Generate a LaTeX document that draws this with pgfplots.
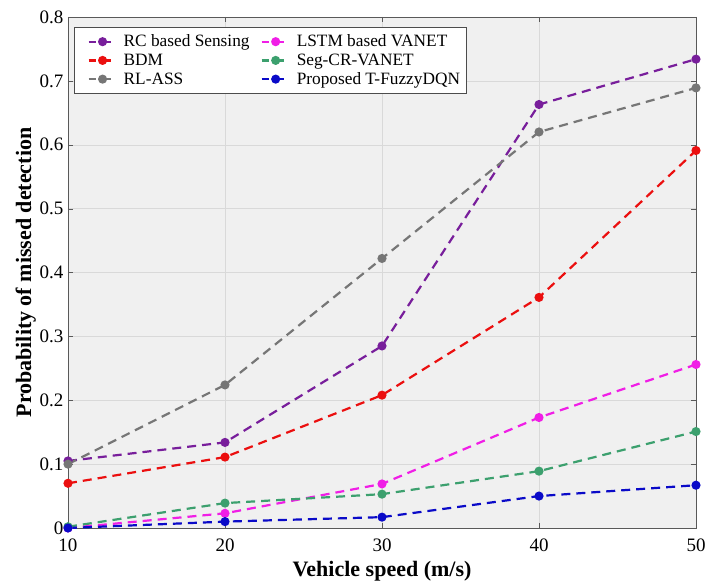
\documentclass[border=0pt]{standalone}
\usepackage{fontspec}
\setmainfont{Liberation Serif}
\usepackage{pgfplots}
\pgfplotsset{compat=1.18}
\definecolor{cRC}{RGB}{120,30,155}
\definecolor{cBDM}{RGB}{235,15,15}
\definecolor{cRL}{RGB}{118,118,118}
\definecolor{cLSTM}{RGB}{240,30,230}
\definecolor{cSeg}{RGB}{60,160,110}
\definecolor{cProp}{RGB}{10,10,200}
\definecolor{bg}{RGB}{240,240,240}
\begin{document}
\begin{tikzpicture}
\begin{axis}[
  scale only axis,
  width=628pt, height=511pt,
  xmin=10, xmax=50, ymin=0, ymax=0.8,
  xtick={10,20,30,40,50},
  ytick={0,0.1,...,0.8},
  yticklabel style={/pgf/number format/fixed,/pgf/number format/precision=1},
  /pgf/number format/assume math mode=true,
  axis background/.style={fill=bg},
  grid=major,
  major grid style={draw=white!85!black, line width=0.5pt},
  axis line style={draw=gray!70!black, line width=0.6pt},
  tick style={draw=gray!70!black},
  major tick length=5pt,
  tick align=inside,
  tick label style={font=\fontsize{19}{21}\selectfont},
  xticklabel style={yshift=-7pt},
  yticklabel style={xshift=-1pt},
  xlabel={\textbf{Vehicle speed (m/s)}},
  ylabel={\textbf{Probability of missed detection}},
  label style={font=\fontsize{22}{24}\selectfont},
  xlabel style={yshift=-3pt},
  ylabel style={yshift=-3pt},
  legend columns=2,
  legend cell align=left,
  legend style={at={(0.010,0.980)}, anchor=north west, font=\fontsize{17.3}{18.5}\selectfont,
    draw=gray!60!black, fill=white, inner xsep=4pt, inner ysep=5.5pt, row sep=1.5pt,
    /tikz/every odd column/.append style={column sep=10pt},
    /tikz/every even column/.append style={column sep=0pt}},
  legend image code/.code={\path (-9pt,0pt); \draw[#1, dash pattern=on 7pt off 4pt] (0pt,0pt) -- (7pt,0pt); \draw[#1,solid] (11pt,0pt) -- (22pt,0pt); \draw[#1,solid] plot coordinates {(14pt,0pt)};},
  every axis plot/.append style={line width=2.2pt, dash pattern=on 9pt off 6pt, mark=*, mark size=3.4pt, mark options={solid}},
  after end axis/.code={\path (rel axis cs:0,1) ++(0,17pt); \path (rel axis cs:1,0) ++(13pt,0); \path (rel axis cs:0,0) ++(-68pt,-53pt);},
]
\addplot[cRC] coordinates {(10,0.105) (20,0.134) (30,0.285) (40,0.663) (50,0.734)};
\addlegendentry{RC based Sensing}
\addplot[cLSTM] coordinates {(10,0.0) (20,0.023) (30,0.069) (40,0.173) (50,0.256)};
\addlegendentry{LSTM based VANET}
\addplot[cBDM] coordinates {(10,0.070) (20,0.111) (30,0.208) (40,0.361) (50,0.591)};
\addlegendentry{BDM}
\addplot[cSeg] coordinates {(10,0.002) (20,0.039) (30,0.053) (40,0.089) (50,0.151)};
\addlegendentry{Seg-CR-VANET}
\addplot[cRL] coordinates {(10,0.100) (20,0.224) (30,0.422) (40,0.620) (50,0.689)};
\addlegendentry{RL-ASS}
\addplot[cProp] coordinates {(10,0.0) (20,0.010) (30,0.017) (40,0.050) (50,0.067)};
\addlegendentry{Proposed T-FuzzyDQN}
\end{axis}
\end{tikzpicture}
\end{document}
